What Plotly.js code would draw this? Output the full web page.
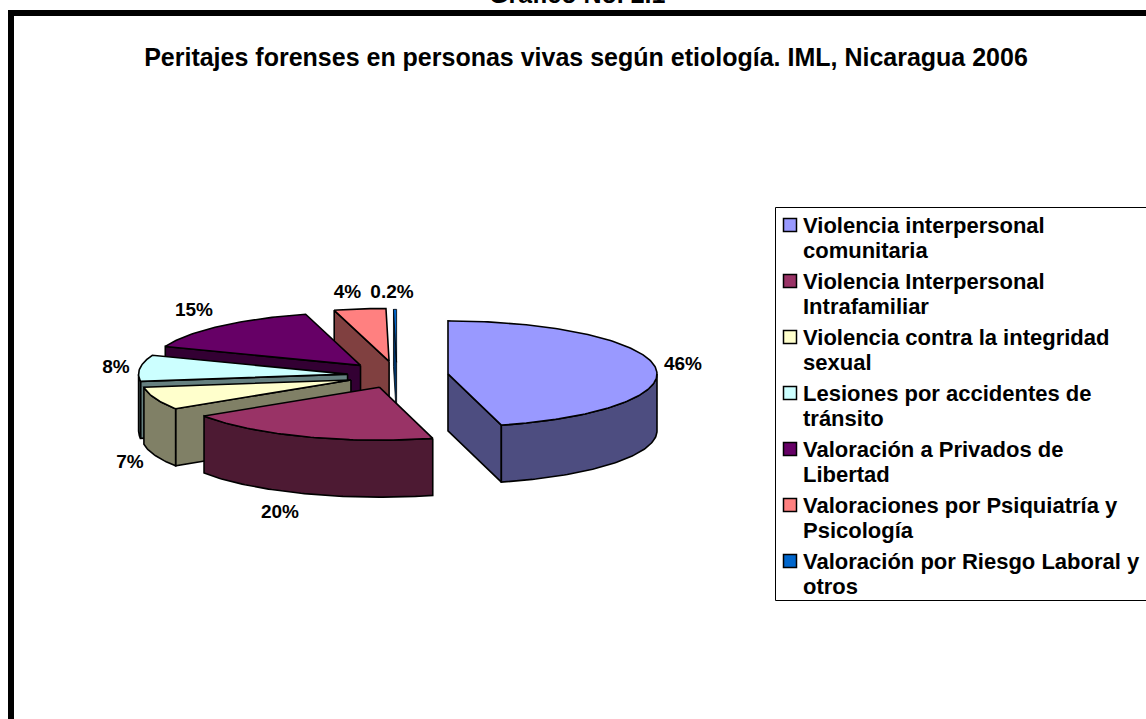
<!DOCTYPE html>
<html><head><meta charset="utf-8">
<script src="https://cdn.plot.ly/plotly-3.0.1.min.js"></script>
<style>html,body{margin:0;padding:0;background:#fff;overflow:hidden}</style>
</head><body><div id="chart" style="width:1146px;height:719px"></div>
<script>
var categories = ["Violencia interpersonal<br>comunitaria","Violencia Interpersonal<br>Intrafamiliar","Violencia contra la integridad<br>sexual","Lesiones por accidentes de<br>tránsito","Valoración a Privados de<br>Libertad","Valoraciones por Psiquiatría y<br>Psicología","Valoración por Riesgo Laboral y<br>otros"];
var values = [46,20,7,8,15,4,0.24];
var valueLabels = ["46%","20%","7%","8%","15%","4%","0.2%"];
var topColors = ["#9999FF","#993366","#FFFFCC","#CCFFFF","#660066","#FF8080","#0066CC"];
var sideColors = ["#4D4D80","#4D1A33","#808066","#668080","#330033","#804040","#003366"];
var explode = [0.246,0.234,0.235,0.238,0.26,0.27,0.25];
var labelX = [683,280,130,116,194,347.5,392];
var labelY = [365,513,463,368,311,293,293];

var CX=397, CY=375.6, RX=209, RY=53, DEPTH=57;
var total = values.reduce(function(a,b){return a+b;},0);
var rad = Math.PI/180;
function P(c,a,z){return [c[0]+RX*Math.sin(a*rad), c[1]-RY*Math.cos(a*rad)+(z||0)];}
function poly(pts,fill,w){
  var xs=pts.map(function(p){return p[0];}), ys=pts.map(function(p){return p[1];});
  xs.push(xs[0]); ys.push(ys[0]);
  return {type:'scatter',mode:'lines',x:xs,y:ys,fill:'toself',fillcolor:fill,
    line:{color:'#000',width:w,shape:'linear'},hoverinfo:'skip',showlegend:false};
}
var arcs=[], cum=0;
values.forEach(function(v){arcs.push([cum/total*360,(cum+v)/total*360]);cum+=v;});
var traces=[];
for(var i=values.length-1;i>=0;i--){
  var a0=arcs[i][0], a1=arcs[i][1], mid=(a0+a1)/2;
  var w=(values[i]<1)?0.8:1.6;
  var c=[CX+explode[i]*RX*Math.sin(mid*rad), CY-explode[i]*RY*Math.cos(mid*rad)];
  var cBottom=[c[0],c[1]+DEPTH];
  if(a0>180 && a0<360) traces.push(poly([c,P(c,a0),P(c,a0,DEPTH),cBottom],sideColors[i],w));
  if(a1>0 && a1<180) traces.push(poly([c,P(c,a1),P(c,a1,DEPTH),cBottom],sideColors[i],w));
  var f0=Math.max(a0,90), f1=Math.min(a1,270);
  var a;
  if(f1>f0){
    var rim=[];
    for(a=f0;a<f1;a+=1) rim.push(P(c,a));
    rim.push(P(c,f1));
    for(a=f1;a>f0;a-=1) rim.push(P(c,a,DEPTH));
    rim.push(P(c,f0,DEPTH));
    traces.push(poly(rim,sideColors[i],w));
  }
  var face=[c];
  for(a=a0;a<a1;a+=1) face.push(P(c,a));
  face.push(P(c,a1));
  traces.push(poly(face,topColors[i],w));
}
traces.push({type:'scatter',mode:'text',x:labelX,y:labelY,text:valueLabels,textposition:'middle center',
  textfont:{family:'Liberation Sans',size:19,color:'#000',weight:700},hoverinfo:'skip',showlegend:false});

var LEG_X=790, LEG_Y0=225, LEG_STEP=56, LEG_LINE=25.5;
var legY=categories.map(function(_,i){return LEG_Y0+i*LEG_STEP;});
traces.push({type:'scatter',mode:'markers',x:categories.map(function(){return LEG_X;}),y:legY,
  marker:{symbol:'square',size:13,color:topColors,line:{color:'#000',width:1.5}},hoverinfo:'skip',showlegend:false});
var annotations=[];
categories.forEach(function(t,i){
  t.split('<br>').forEach(function(line,j){
    annotations.push({x:801,y:legY[i]+j*LEG_LINE,xref:'x',yref:'y',text:line,showarrow:false,xanchor:'left',yanchor:'middle',align:'left',
      font:{family:'Liberation Sans',size:22,color:'#000',weight:700}});
  });
});
annotations.push({x:577,y:0,yshift:6,xref:'x',yref:'y',text:'Gráfico No. 2.1',showarrow:false,xanchor:'center',yanchor:'middle',
  font:{family:'Liberation Sans',size:25,color:'#000',weight:700}});
var shapes=[
  {type:'rect',xref:'x',yref:'y',x0:11,x1:1160,y0:13,y1:740,line:{color:'#000',width:6},fillcolor:'rgba(0,0,0,0)',layer:'below'},
  {type:'rect',xref:'x',yref:'y',x0:775.5,x1:1160,y0:207.5,y1:600.5,line:{color:'#000',width:1},fillcolor:'#fff',layer:'below'}
];
Plotly.newPlot('chart',traces,{
  width:1146,height:719,margin:{l:0,r:0,t:0,b:0},paper_bgcolor:'#fff',plot_bgcolor:'#fff',showlegend:false,
  title:{text:'Peritajes forenses en personas vivas según etiología. IML, Nicaragua 2006',x:586/1146,y:1-57/719,xanchor:'center',yanchor:'middle',
    font:{family:'Liberation Sans',size:25,color:'#000',weight:700}},
  xaxis:{range:[0,1146],visible:false,fixedrange:true},
  yaxis:{range:[719,0],visible:false,fixedrange:true},
  annotations:annotations,shapes:shapes
},{displayModeBar:false,staticPlot:true});
</script></body></html>
